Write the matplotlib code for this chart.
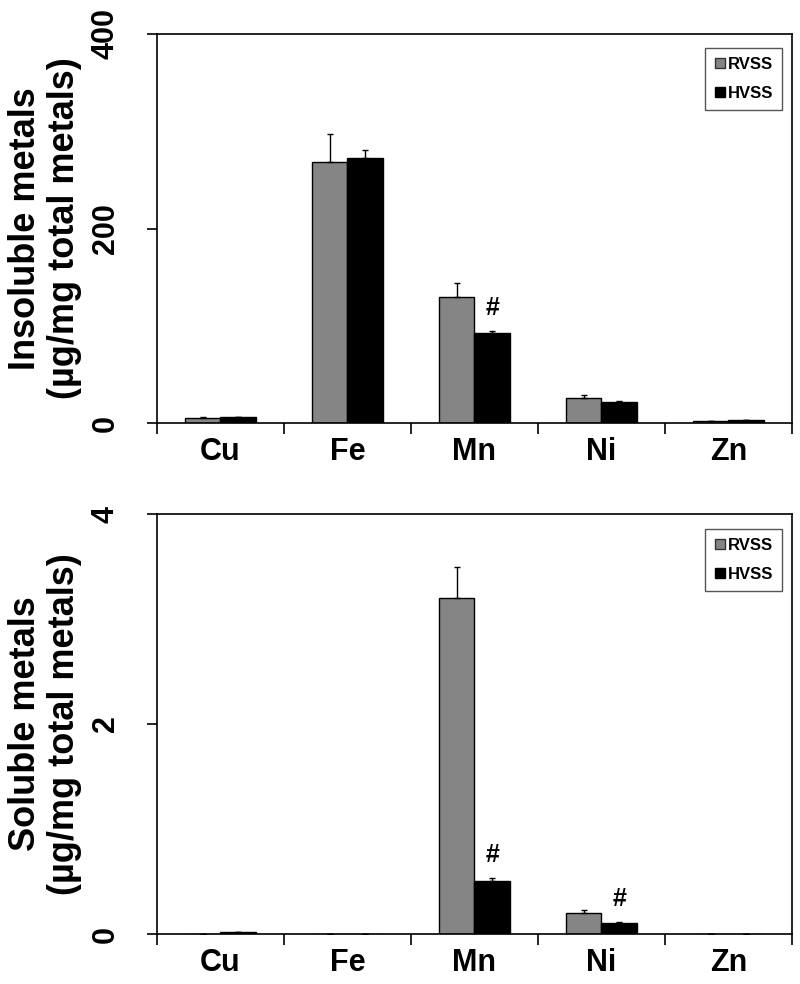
import numpy as np
import matplotlib
matplotlib.use("Agg")
import matplotlib.pyplot as plt
from matplotlib.lines import Line2D

plt.rcParams['font.family'] = ['Liberation Sans', 'DejaVu Sans']
plt.rcParams['font.weight'] = 'bold'

metals = ["Cu", "Fe", "Mn", "Ni", "Zn"]

# insoluble metals (ug/mg total metals)
insol_rvss = [5.5, 268, 130, 25.7, 2.0]
insol_rvss_err = [0.5, 29, 14, 3.0, 0.3]
insol_hvss = [6.5, 273, 92.5, 22, 3.4]
insol_hvss_err = [0.3, 8, 2.5, 0.5, 0.3]

# soluble metals
sol_rvss = [0.0, 0.0, 3.20, 0.203, 0.0]
sol_rvss_err = [0.0, 0.0, 0.30, 0.025, 0.0]
sol_hvss = [0.02, 0.0, 0.505, 0.108, 0.0]
sol_hvss_err = [0.0, 0.0, 0.03, 0.005, 0.0]

# '#' marks (index of metal with significant difference, HVSS bar)
insol_sig = [2]
sol_sig = [2, 3]

gray = "#858585"
fig = plt.figure(figsize=(8, 9.84), dpi=100)
ax1 = fig.add_axes([0.196, 0.570, 0.794, 0.3955])
ax2 = fig.add_axes([0.196, 0.0508, 0.794, 0.4268])

w = 0.28
x = np.arange(len(metals))


def draw(ax, rv, rv_e, hv, hv_e, ymax, yticks, ylabel, sig):
    ax.bar(x - w / 2, rv, w, color=gray, edgecolor="black", linewidth=1.0,
           yerr=[np.zeros(len(rv)), rv_e], error_kw=dict(ecolor="black", elinewidth=1.0, capsize=2, capthick=1.0))
    ax.bar(x + w / 2, hv, w, color="black", edgecolor="black", linewidth=1.0,
           yerr=[np.zeros(len(hv)), hv_e], error_kw=dict(ecolor="black", elinewidth=1.0, capsize=2, capthick=1.0))
    for i in sig:
        ax.annotate("#", (x[i] + w / 2, hv[i] + hv_e[i]), xytext=(0, 8), textcoords="offset points",
                    ha="center", va="bottom", fontsize=18, fontweight="bold")
    ax.set_xlim(-0.5, len(metals) - 0.5)
    ax.set_ylim(0, ymax)
    ax.set_yticks(yticks)
    ax.set_yticklabels([str(t) for t in yticks], rotation=90, va="center", fontsize=22, fontweight="bold")
    ax.set_xticks(np.arange(-0.5, len(metals), 1.0))
    ax.set_xticklabels([])
    ax.set_xticks(x, minor=True)
    ax.set_xticklabels(metals, minor=True, fontsize=22, fontweight="bold")
    ax.tick_params(axis="x", which="major", direction="out", length=8, width=1.2)
    ax.tick_params(axis="x", which="minor", length=0, pad=10)
    ax.tick_params(axis="y", direction="out", length=7, width=1.2, pad=19)
    for s in ax.spines.values():
        s.set_linewidth(1.2)
    ax.text(-0.176, 0.5, ylabel, transform=ax.transAxes, rotation=90, ha="center", va="center",
            fontsize=26, fontweight="bold", multialignment="center", linespacing=1.15)
    handles = [Line2D([], [], marker="s", linestyle="none", markersize=7, markerfacecolor=gray,
                      markeredgecolor="#333333", markeredgewidth=1.0),
               Line2D([], [], marker="s", linestyle="none", markersize=7, markerfacecolor="black",
                      markeredgecolor="black")]
    ax.legend(handles, ["RVSS", "HVSS"], loc="upper right", bbox_to_anchor=(0.985, 0.965),
              fancybox=False, edgecolor="#555555", framealpha=1,
              prop=dict(weight="bold", size=12), handlelength=0.6, handletextpad=0.2,
              labelspacing=0.85, borderpad=0.55, borderaxespad=0)


draw(ax1, insol_rvss, insol_rvss_err, insol_hvss, insol_hvss_err, 400, [0, 200, 400],
     "Insoluble metals\n(µg/mg total metals)", insol_sig)
draw(ax2, sol_rvss, sol_rvss_err, sol_hvss, sol_hvss_err, 4, [0, 2, 4],
     "Soluble metals\n(µg/mg total metals)", sol_sig)

fig.savefig("out.png", dpi=100)
